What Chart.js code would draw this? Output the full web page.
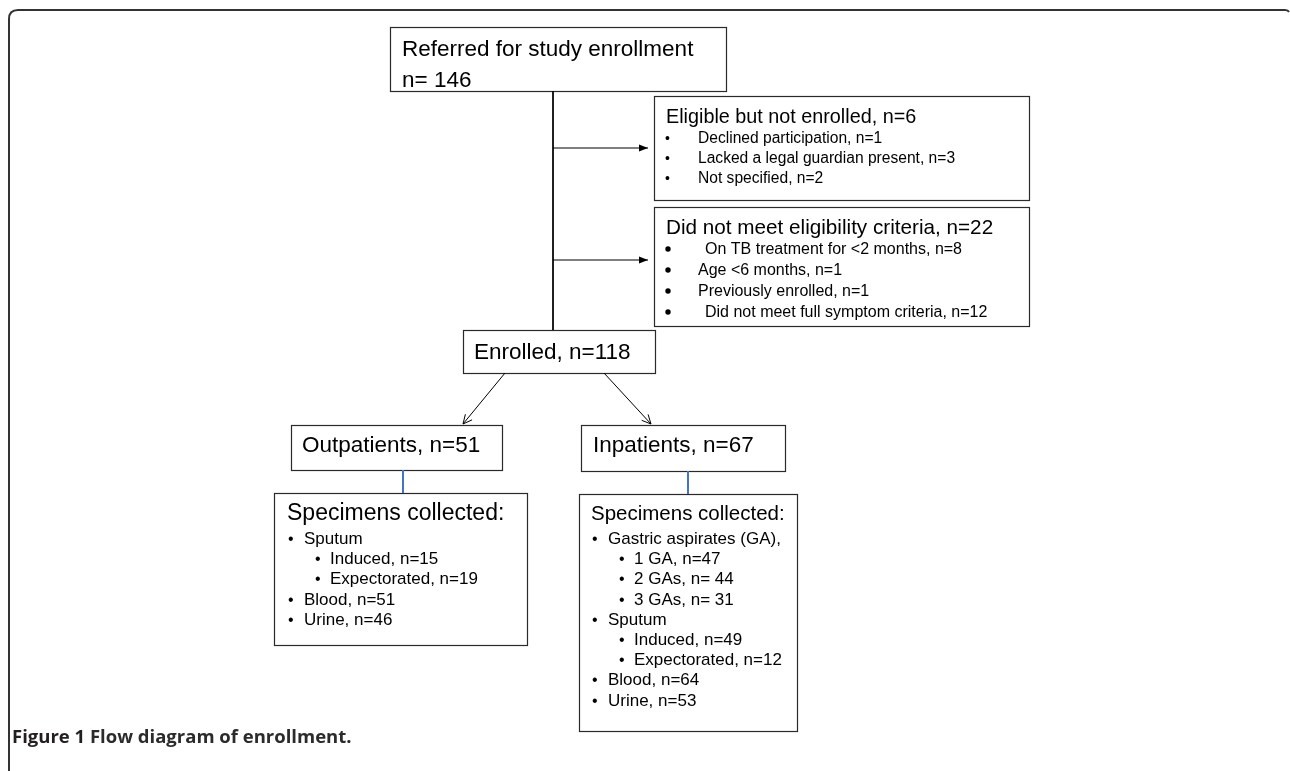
<!DOCTYPE html>
<html>
<head>
<meta charset="utf-8">
<script src="https://cdn.jsdelivr.net/npm/chart.js@4.4.1/dist/chart.umd.min.js"></script>
<style>
html, body { margin: 0; padding: 0; background: #fff; }
#wrap { position: relative; width: 1290px; height: 771px; }
</style>
</head>
<body>
<div id="wrap"><canvas id="flow" width="1290" height="771"></canvas></div>
<script>
// stages of the flow and their counts
const stageLabels = ["Referred for study enrollment", "Eligible but not enrolled", "Did not meet eligibility criteria", "Enrolled", "Outpatients", "Inpatients"];
const stageCounts = [146, 6, 22, 118, 51, 67];

const notEnrolledReasons = ["Declined participation", "Lacked a legal guardian present", "Not specified"];
const notEnrolledCounts = [1, 3, 2];

const ineligibleReasons = ["On TB treatment for <2 months", "Age <6 months", "Previously enrolled", "Did not meet full symptom criteria"];
const ineligibleCounts = [8, 1, 1, 12];

const outSpecimenLabels = ["Sputum", "Induced", "Expectorated", "Blood", "Urine"];
const outSpecimenCounts = [null, 15, 19, 51, 46];
const outSpecimenLevels = [1, 2, 2, 1, 1];

const inSpecimenLabels = ["Gastric aspirates (GA),", "1 GA", "2 GAs", "3 GAs", "Sputum", "Induced", "Expectorated", "Blood", "Urine"];
const inSpecimenCounts = [null, 47, 44, 31, null, 49, 12, 64, 53];
const inSpecimenLevels = [1, 2, 2, 2, 1, 2, 2, 1, 1];
const inSpecimenSpaced = [0, 0, 1, 1, 0, 0, 0, 0, 0];

const captionBold = "Figure 1";
const captionText = "Flow diagram of enrollment.";

// layout of the diagram, in page units (x: 0..1290, y: 0..771 top-down)
const boxes = {
	referred: [390, 27, 726, 91],
	eligible: [654, 96, 1029, 200],
	ineligible: [654, 207, 1029, 326],
	enrolled: [463, 330, 655, 373],
	outpatients: [291, 425, 502, 470],
	inpatients: [581, 425, 785, 471],
	outSpec: [274, 493, 527, 645],
	inSpec: [579, 494, 797, 731]
};

const links = [
	{ from: [553, 91], to: [553, 330] },
	{ from: [553, 148], to: [648, 148], head: "solid" },
	{ from: [553, 260], to: [648, 260], head: "solid" },
	{ from: [505, 373], to: [463, 424], head: "open" },
	{ from: [604, 373], to: [651, 424], head: "open" },
	{ from: [403, 470], to: [403, 493], color: "#4472c4", width: 2 },
	{ from: [688, 471], to: [688, 494], color: "#4472c4", width: 2 }
];

const FONT = '"Liberation Sans", Arial, sans-serif';

function nText(v, spaced) {
	return spaced ? "n= " + v : "n=" + v;
}

const ctx = document.getElementById("flow").getContext("2d");

const diagramPlugin = {
	id: "diagram",
	beforeDatasetsDraw(chart) {
		const c = chart.ctx;
		const X = v => chart.scales.x.getPixelForValue(v);
		const Y = v => chart.scales.y.getPixelForValue(v);

		function text(str, x, y, size, weight, color) {
			c.font = (weight || "normal") + " " + size + "px " + FONT;
			c.fillStyle = color || "#000";
			c.textBaseline = "alphabetic";
			c.textAlign = "left";
			c.fillText(str, X(x), Y(y));
		}

		function box(b) {
			const x0 = Math.round(X(b[0])) + 0.5, y0 = Math.round(Y(b[1])) + 0.5;
			const x1 = Math.round(X(b[2])) + 0.5, y1 = Math.round(Y(b[3])) + 0.5;
			c.fillStyle = "#fff";
			c.fillRect(x0, y0, x1 - x0, y1 - y0);
			c.strokeStyle = "#2a2a2a";
			c.lineWidth = 1.2;
			c.strokeRect(x0, y0, x1 - x0, y1 - y0);
		}

		c.save();

		// outer figure frame
		c.strokeStyle = "#333";
		c.lineWidth = 2;
		c.beginPath();
		c.moveTo(X(9), Y(771));
		c.lineTo(X(9), Y(19));
		c.quadraticCurveTo(X(9), Y(10), X(18), Y(10));
		c.lineTo(X(1285), Y(10));
		c.quadraticCurveTo(X(1288), Y(10), X(1289), Y(12));
		c.stroke();

		Object.values(boxes).forEach(box);

		// referred
		text(stageLabels[0], 402, 56, 22.5);
		text(nText(stageCounts[0], true), 402, 87, 22.5);

		// eligible but not enrolled
		text(stageLabels[1] + ", " + nText(stageCounts[1]), 666, 123, 19.8);
		notEnrolledReasons.forEach((r, i) => {
			const y = 143 + i * 20;
			text("\u2022", 665, y, 14);
			text(r + ", " + nText(notEnrolledCounts[i]), 698, y, 15.6);
		});

		// did not meet eligibility
		const ineligibleIndent = [705, 698, 698, 705];
		text(stageLabels[2] + ", " + nText(stageCounts[2]), 666, 234, 20.7);
		ineligibleReasons.forEach((r, i) => {
			const y = 254 + i * 21;
			c.fillStyle = "#000";
			c.beginPath();
			c.arc(X(668), Y(y - 5), 2.7, 0, Math.PI * 2);
			c.fill();
			text(r + ", " + nText(ineligibleCounts[i]), ineligibleIndent[i], y, 16);
		});

		// enrolled and the two arms
		text(stageLabels[3] + ", " + nText(stageCounts[3]), 474, 359, 22.5);
		text(stageLabels[4] + ", " + nText(stageCounts[4]), 302, 452, 22.5);
		text(stageLabels[5] + ", " + nText(stageCounts[5]), 593, 452, 22.5);

		// specimen lists
		function specimenList(x, top, titleSize, labels, counts, levels, spaced, off) {
			text("Specimens collected:", x, top, titleSize);
			labels.forEach((l, i) => {
				const y = top + 24 + i * 20.2;
				const lv = levels[i];
				const bx = x + (lv === 1 ? off[0] : off[2]);
				const tx = x + (lv === 1 ? off[1] : off[3]);
				text("\u2022", bx, y, 16);
				const s = counts[i] === null ? l : l + ", " + nText(counts[i], spaced && spaced[i]);
				text(s, tx, y, 17);
			});
		}
		specimenList(287, 520, 23, outSpecimenLabels, outSpecimenCounts, outSpecimenLevels, null, [1, 17, 28, 43]);
		specimenList(591, 520, 20.5, inSpecimenLabels, inSpecimenCounts, inSpecimenLevels, inSpecimenSpaced, [1, 17, 28, 43]);

		// caption
		c.font = "bold 18.5px \"Open Sans\", sans-serif";
		c.fillStyle = "#231f20";
		c.fillText(captionBold, X(12), Y(743));
		const w = c.measureText(captionBold + " ").width;
		c.fillStyle = "#2b2b2b";
		c.fillText(captionText, X(12) + w, Y(743));

		c.restore();
	},
	afterDatasetsDraw(chart) {
		const c = chart.ctx;
		const X = v => chart.scales.x.getPixelForValue(v);
		const Y = v => chart.scales.y.getPixelForValue(v);
		c.save();
		links.forEach(l => {
			if (!l.head) return;
			const tx = X(l.to[0]), ty = Y(l.to[1]);
			const a = Math.atan2(ty - Y(l.from[1]), tx - X(l.from[0]));
			c.strokeStyle = "#000";
			c.fillStyle = "#000";
			c.lineWidth = 1;
			if (l.head === "solid") {
				c.beginPath();
				c.moveTo(tx, ty);
				c.lineTo(tx - 9 * Math.cos(a) + 3.5 * Math.sin(a), ty - 9 * Math.sin(a) - 3.5 * Math.cos(a));
				c.lineTo(tx - 9 * Math.cos(a) - 3.5 * Math.sin(a), ty - 9 * Math.sin(a) + 3.5 * Math.cos(a));
				c.closePath();
				c.fill();
			} else {
				const len = 10, sp = 0.45;
				c.beginPath();
				c.moveTo(tx - len * Math.cos(a - sp), ty - len * Math.sin(a - sp));
				c.lineTo(tx, ty);
				c.lineTo(tx - len * Math.cos(a + sp), ty - len * Math.sin(a + sp));
				c.stroke();
			}
		});
		c.restore();
	}
};

const flowChart = new Chart(ctx, {
	type: "scatter",
	data: {
		datasets: links.map(l => ({
			data: [{ x: l.from[0], y: l.from[1] }, { x: l.to[0], y: l.to[1] }],
			showLine: true,
			borderColor: l.color || "#000",
			borderWidth: l.width || 1,
			pointRadius: 0,
			pointHoverRadius: 0,
			fill: false
		}))
	},
	options: {
		responsive: false,
		maintainAspectRatio: false,
		animation: false,
		events: [],
		layout: { padding: 0 },
		plugins: {
			legend: { display: false },
			tooltip: { enabled: false },
			title: { display: false }
		},
		scales: {
			x: { type: "linear", min: 0, max: 1290, display: false },
			y: { type: "linear", min: 0, max: 771, reverse: true, display: false }
		}
	},
	plugins: [diagramPlugin]
});
</script>
</body>
</html>
